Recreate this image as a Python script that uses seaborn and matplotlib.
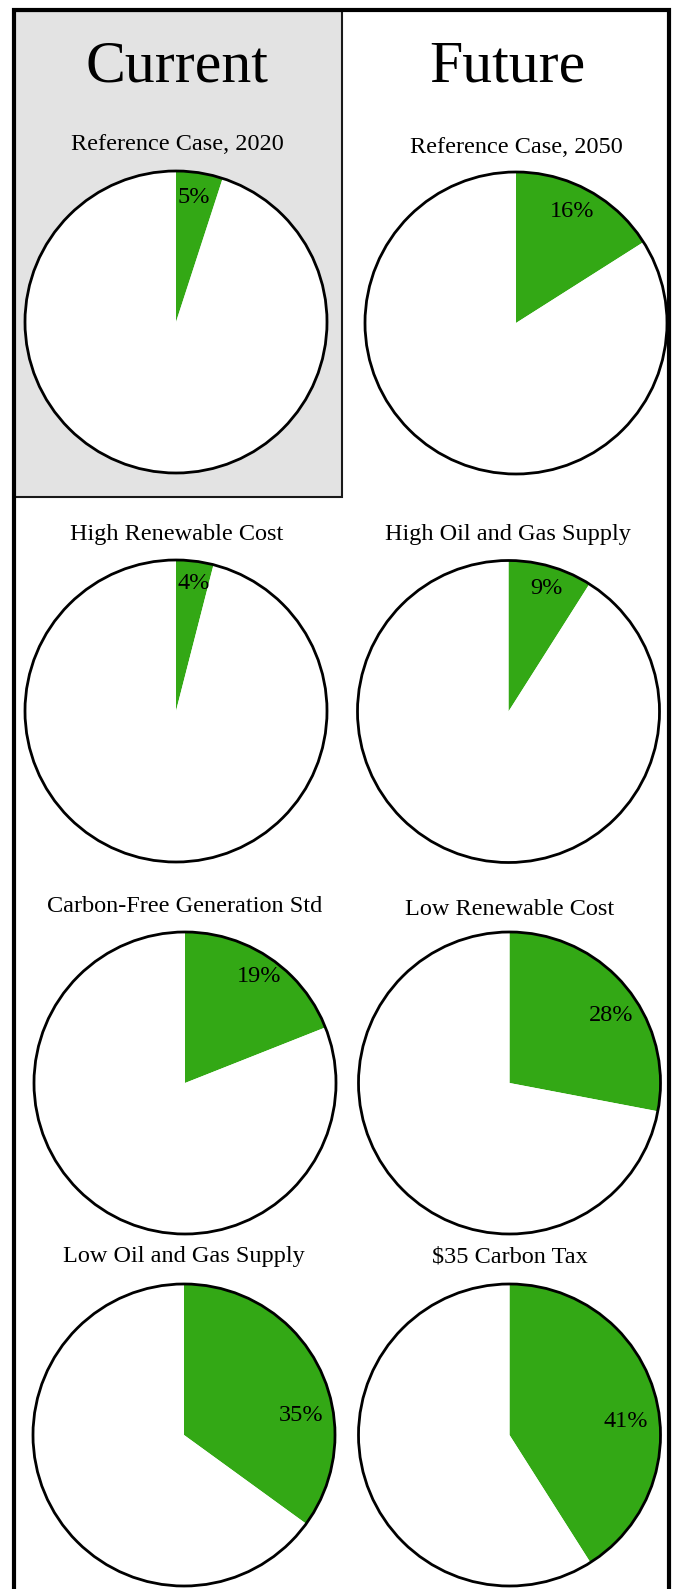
import matplotlib
matplotlib.use("Agg")
import matplotlib.pyplot as plt
from matplotlib.patches import Rectangle, Circle
import seaborn as sns

# ---- data -------------------------------------------------------------
scenarios = [
    "Reference Case, 2020", "Reference Case, 2050",
    "High Renewable Cost", "High Oil and Gas Supply",
    "Carbon-Free Generation Std", "Low Renewable Cost",
    "Low Oil and Gas Supply", "$35 Carbon Tax",
]
renewable_share = [5, 16, 4, 9, 19, 28, 35, 41]   # percent of generation
column_headers = ["Current", "Future"]

# ---- layout (pixels, y measured from the top) --------------------------
W, H = 676, 1589
R = 151
pie_centers = [(176, 322), (516, 323), (176, 711), (508.5, 711.5),
               (185, 1083), (509.5, 1083), (184, 1435), (509.5, 1435)]
title_pos = [(177, 150), (516, 153), (177, 540), (508, 540),
             (185, 912), (510, 915), (184, 1262), (510, 1263)]
header_pos = [(177, 81.5), (507, 81)]
# percent label placement: (fraction of radius, angle in degrees)
label_polar = [(0.85, 81.9), (0.84, 63.8), (0.87, 82.2), (0.87, 73.4),
               (0.87, 55.9), (0.82, 34.7), (0.79, 10.6), (0.78, 7.8)]

GREEN = "#33a815"
PANEL = "#e3e3e3"

sns.set_theme(style="white")
plt.rcParams["font.family"] = ["Liberation Serif", "DejaVu Serif"]

fig = plt.figure(figsize=(W / 100, H / 100), dpi=100)
fig.patch.set_facecolor("white")


def fx(x):
    return x / W


def fy(y):
    return 1 - y / H


# shaded "current" panel
fig.add_artist(Rectangle((fx(14.5), fy(496.5)), fx(342) - fx(14.5),
                         fy(10.5) - fy(496.5), transform=fig.transFigure,
                         facecolor=PANEL, edgecolor="#1a1a1a", lw=1.5,
                         zorder=0))
# outer frame (open at the bottom)
fig.add_artist(Rectangle((fx(14.5), fy(1650)), fx(668.5) - fx(14.5),
                         fy(10.5) - fy(1650), transform=fig.transFigure,
                         facecolor="none", edgecolor="black", lw=3.0,
                         zorder=0.5))

for (hx, hy), txt in zip(header_pos, column_headers):
    fig.text(fx(hx), fy(hy), txt, ha="center", va="baseline",
             fontsize=43, color="black")

for i, (name, share) in enumerate(zip(scenarios, renewable_share)):
    cx, cy = pie_centers[i]
    side = 2 * 1.25 * R
    ax = fig.add_axes([fx(cx - side / 2), fy(cy + side / 2),
                       side / W, side / H])
    wedges, texts, autotexts = ax.pie(
        [share, 100 - share], colors=[GREEN, "white"], startangle=90,
        counterclock=False, autopct=lambda p: f"{p:.0f}%",
        wedgeprops=dict(linewidth=0),
        textprops=dict(fontsize=17.5, color="black"))
    autotexts[1].set_visible(False)
    frac, ang = label_polar[i]
    import math
    autotexts[0].set_position((frac * math.cos(math.radians(ang)),
                               frac * math.sin(math.radians(ang))))
    autotexts[0].set_va("center_baseline")
    ax.add_patch(Circle((0, 0), 1, fill=False, edgecolor="black", lw=2.0))
    ax.set_xlim(-1.25, 1.25)
    ax.set_ylim(-1.25, 1.25)
    ax.set_aspect("equal")
    ax.set_frame_on(False)
    ax.set_xticks([])
    ax.set_yticks([])

    tx, ty = title_pos[i]
    fig.text(fx(tx), fy(ty), name, ha="center", va="baseline",
             fontsize=17.5, color="black")

fig.savefig("out.png", dpi=100)
